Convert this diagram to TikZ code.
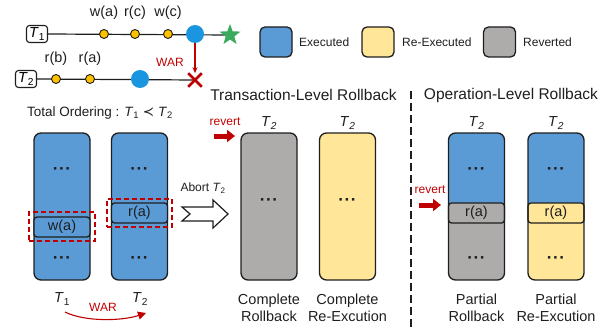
\documentclass[tikz,border=0pt]{standalone}
\usepackage{fontspec}
\setmainfont{Liberation Sans}
\newfontfamily\symfont{DejaVu Sans}
\usetikzlibrary{shapes.geometric,shapes.misc,arrows.meta,backgrounds}
\definecolor{exeblue}{HTML}{5B9BD5}
\definecolor{reyellow}{HTML}{FFE699}
\definecolor{revgray}{HTML}{AEABAB}
\definecolor{darkred}{HTML}{C00000}
\definecolor{dotorange}{HTML}{FFC000}
\definecolor{evblue}{HTML}{1A96E0}
\definecolor{stargreen}{HTML}{3BAA5E}
\definecolor{ink}{HTML}{1E1E1E}
\newcommand\Tn[1]{\textit{T}\textsubscript{#1}}
\newcommand\Ti[1]{\textit{T}\textsubscript{\textit{#1}}}
\newcommand\mdots{·\kern0.6pt·\kern0.6pt·}

\begin{document}
\begin{tikzpicture}[x=1pt,y=-1pt,
  txt/.style={font=\fontsize{14.5}{17}\selectfont, text=ink, inner sep=0pt},
  ttl/.style={font=\fontsize{15.5}{18}\selectfont, text=ink, inner sep=0pt},
  small/.style={font=\fontsize{12}{14}\selectfont, text=ink, inner sep=0pt},
  redtxt/.style={font=\fontsize{12}{14}\selectfont, text=darkred, inner sep=0pt},
  col/.style={draw=ink, line width=1.3pt, rounded corners=7pt,
    minimum width=56pt, minimum height=147pt, inner sep=0pt},
  opbox/.style={draw=ink, line width=1.3pt, rounded corners=3pt,
    minimum width=56pt, minimum height=20pt, inner sep=0pt,
    font=\fontsize{14.5}{17}\selectfont, text=ink},
  tbox/.style={draw=ink, line width=1.1pt, rounded corners=3pt,
    minimum width=21pt, minimum height=17pt, inner sep=0pt,
    font=\fontsize{14.5}{17}\selectfont},
  opdot/.style={circle, fill=dotorange, draw=ink, line width=0.9pt,
    minimum size=9pt, inner sep=0pt},
  evdot/.style={circle, fill=evblue, minimum size=18pt, inner sep=0pt},
  legbox/.style={draw=ink, line width=1.3pt, rounded corners=5pt,
    minimum width=32pt, minimum height=30pt, inner sep=0pt},
  redbox/.style={draw=darkred, line width=1.4pt, dash pattern=on 5pt off 3pt,
    inner sep=0pt},
  dots/.style={font=\fontsize{17}{17}\selectfont\bfseries, text=ink,
    inner sep=0pt, anchor=base, yshift=-5pt},
  revarrow/.style={darkred, line width=5pt, -{Triangle[length=8pt,width=12pt]}},
  tl/.style={ink, line width=1.2pt}
]
\useasboundingbox (0,0) rectangle (610,329);

% ---------- timelines ----------
\node[tbox] (t1) at (37,34) {\Tn{1}};
\node[tbox] (t2) at (26,79) {\Tn{2}};
\node[opdot] (wa) at (104,34) {};
\node[opdot] (rc) at (135,34) {};
\node[opdot] (wc) at (168,34) {};
\node[evdot] (c1) at (195,34) {};
\node[star, star points=5, star point ratio=2.4, fill=stargreen,
  minimum size=22pt, inner sep=0pt] (st) at (230,35) {};
\node[opdot] (rb) at (56,79) {};
\node[opdot] (ra) at (90,79) {};
\node[evdot] (c2) at (140,79) {};
\node[cross out, draw=darkred, line width=2.6pt, minimum size=11pt,
  inner sep=0pt] (xx) at (195,80) {};
\begin{scope}[on background layer]
  \draw[tl] (t1.east) -- (st.center);
  \draw[tl] (t2.east) -- (xx.center);
\end{scope}
\node[txt] (lwa) at (104,13) {w(a)};
\node[txt] (lrc) at (135,13) {r(c)};
\node[txt] (lwc) at (168,13) {w(c)};
\node[txt] (lrb) at (56,59) {r(b)};
\node[txt] (lra) at (90,59) {r(a)};
\draw[darkred, line width=1.1pt, -{Stealth[length=6pt,width=5pt]}] (c1.south) -- (xx.north);
\node[redtxt] (war1) at (170,62) {WAR};

% ---------- legend ----------
\node[legbox, fill=exeblue] (lg1) at (276,42) {};
\node[small, anchor=west] (lt1) at (299,42) {Executed};
\node[legbox, fill=reyellow] (lg2) at (378,42) {};
\node[small, anchor=west] (lt2) at (402,42) {Re-Executed};
\node[legbox, fill=revgray] (lg3) at (499.5,42) {};
\node[small, anchor=west] (lt3) at (523,42) {Reverted};

% ---------- total ordering ----------
\node[txt, font=\fontsize{13.5}{16}\selectfont] (ord) at (100,113)
  {Total Ordering : \Tn{1} {\symfont ≺} \Tn{2}};
\node[col, fill=exeblue] (k1) at (62,206.5) {};
\node[col, fill=exeblue] (k2) at (139.5,206.5) {};
\node[opbox, fill=exeblue] (ow) at (62,227) {w(a)};
\node[opbox, fill=exeblue] (or) at (139.5,213) {r(a)};
\node[redbox, minimum width=66pt, minimum height=29pt] (h1) at (62,226.5) {};
\node[redbox, minimum width=65pt, minimum height=28pt] (h2) at (139.5,213) {};
\node[dots] (d1a) at (62,169) {\mdots};
\node[dots] (d1b) at (62,258) {\mdots};
\node[dots] (d2a) at (139.5,169) {\mdots};
\node[dots] (d2b) at (139.5,258) {\mdots};
\node[txt] (bt1) at (62,299) {\Tn{1}};
\node[txt] (bt2) at (140,299) {\Tn{2}};
\coordinate (ws) at (65,312);
\coordinate (we) at (146,313);
\draw[darkred, line width=1.1pt, -{Triangle[length=8pt,width=8pt]}]
  (ws) .. controls (85,322) and (122,321) .. (we);
\node[redtxt] (war2) at (103,307) {WAR};

% ---------- abort arrow ----------
\node[small] (ab) at (203,188) {Abort \Tn{2}};
\draw[ink, line width=1.2pt, fill=white]
  (182,207) -- (213,207) -- (213,200) -- (228,214) -- (213,228)
  -- (213,221) -- (182,221) -- (190,214) -- cycle;

% ---------- transaction-level rollback ----------
\node[ttl] (tt1) at (303.5,95) {Transaction-Level Rollback};
\node[col, fill=revgray] (g1) at (269,206.5) {};
\node[col, fill=reyellow] (y1) at (347.5,206.5) {};
\node[dots] (dg) at (269,200) {\mdots};
\node[dots] (dy) at (347.5,200) {\mdots};
\node[txt] (lg) at (269,123) {\Ti{2}};
\node[txt] (ly) at (347.5,123) {\Ti{2}};
\node[redtxt] (rv1) at (225,122) {revert};
\coordinate (ra1) at (214,136);
\coordinate (rb1) at (235,136);
\draw[revarrow] (ra1) -- (rb1);
\node[txt, align=center] (cl1) at (269,308) {Complete\\Rollback};
\node[txt, align=center] (cl2) at (347.5,308) {Complete\\Re-Excution};

% ---------- separator ----------
\coordinate (sa) at (411,91);
\coordinate (sb) at (411,329);
\draw[ink, line width=1.5pt, dash pattern=on 8pt off 4pt] (sa) -- (sb);

% ---------- operation-level rollback ----------
\node[ttl] (tt2) at (511,95) {Operation-Level Rollback};
\begin{scope}
  \clip[rounded corners=7pt] (448.5,133) rectangle (504.5,280);
  \fill[revgray] (448.5,133) rectangle (504.5,280);
  \fill[exeblue] (448.5,133) rectangle (504.5,213);
\end{scope}
\begin{scope}
  \clip[rounded corners=7pt] (528,133) rectangle (584,280);
  \fill[reyellow] (528,133) rectangle (584,280);
  \fill[exeblue] (528,133) rectangle (584,213);
\end{scope}
\node[opbox, fill=revgray] (pr1) at (476.5,213) {r(a)};
\node[opbox, fill=reyellow] (pr2) at (556,213) {r(a)};
\node[col] (p1) at (476.5,206.5) {};
\node[col] (p2) at (556,206.5) {};
\node[dots] (dp1a) at (476.5,169) {\mdots};
\node[dots] (dp1b) at (476.5,258) {\mdots};
\node[dots] (dp2a) at (556,169) {\mdots};
\node[dots] (dp2b) at (556,258) {\mdots};
\node[txt] (lp1) at (476.5,123) {\Ti{2}};
\node[txt] (lp2) at (556,123) {\Ti{2}};
\node[redtxt] (rv2) at (430,190) {revert};
\coordinate (ra2) at (419,205);
\coordinate (rb2) at (441,205);
\draw[revarrow] (ra2) -- (rb2);
\node[txt, align=center] (pl1) at (476.5,308) {Partial\\Rollback};
\node[txt, align=center] (pl2) at (556,308) {Partial\\Re-Excution};
\end{tikzpicture}
\end{document}
